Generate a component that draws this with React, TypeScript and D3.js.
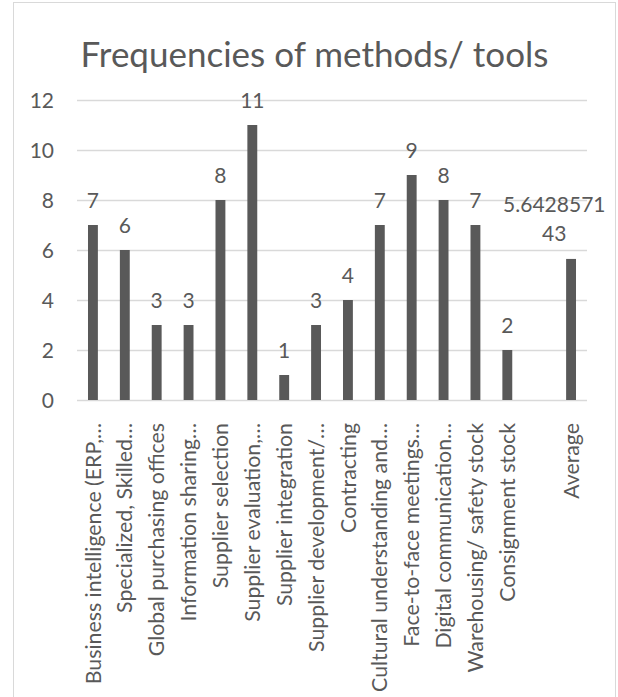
import React, { useEffect, useRef } from "react";
import * as d3 from "d3";

// Category labels as they appear on the axis (long ones are cut with an ellipsis)
const categories: string[] = [
  "Business intelligence (ERP,…",
  "Specialized, Skilled…",
  "Global purchasing offices",
  "Information sharing…",
  "Supplier selection",
  "Supplier evaluation,…",
  "Supplier integration",
  "Supplier development/…",
  "Contracting",
  "Cultural understanding and…",
  "Face-to-face meetings…",
  "Digital communication…",
  "Warehousing/ safety stock",
  "Consignment stock",
  "",
  "Average",
];

// Frequencies for the 14 methods/tools
const frequencies: number[] = [7, 6, 3, 3, 8, 11, 1, 3, 4, 7, 9, 8, 7, 2];

const yTicks: number[] = [0, 2, 4, 6, 8, 10, 12];

const TITLE = "Frequencies of methods/ tools";

const W = 618;
const H = 697;
const FONT = "Lato, 'Open Sans', sans-serif";
const INK = "#595959";
const GRID = "#d9d9d9";
const FS = 21;

export default function App() {
  const ref = useRef<SVGSVGElement | null>(null);

  useEffect(() => {
    const svg = d3.select(ref.current);
    svg.selectAll("*").remove();

    const chart = { left: 13.5, top: 2.5, right: 615.5, bottom: 698 };
    const plot = { left: 77, right: 587, top: 100, bottom: 400 };

    const average = d3.mean(frequencies) as number;
    const values: (number | null)[] = [...frequencies, null, average];

    // chart frame
    svg
      .append("rect")
      .attr("x", chart.left)
      .attr("y", chart.top)
      .attr("width", chart.right - chart.left)
      .attr("height", chart.bottom - chart.top)
      .attr("fill", "#fff")
      .attr("stroke", GRID)
      .attr("stroke-width", 1);

    // title
    svg
      .append("text")
      .attr("x", (chart.left + chart.right) / 2)
      .attr("y", 67)
      .attr("text-anchor", "middle")
      .attr("font-family", FONT)
      .attr("font-size", 35)
      .attr("fill", INK)
      .text(TITLE);

    const x = d3
      .scaleBand<number>()
      .domain(d3.range(categories.length))
      .range([plot.left, plot.right])
      .paddingInner(0.69)
      .paddingOuter(0.345);

    const y = d3.scaleLinear().domain([0, 12]).range([plot.bottom, plot.top]);

    // gridlines
    svg
      .append("g")
      .selectAll("line")
      .data(yTicks)
      .join("line")
      .attr("x1", plot.left)
      .attr("x2", plot.right)
      .attr("y1", (d) => Math.round(y(d)) + 0.5)
      .attr("y2", (d) => Math.round(y(d)) + 0.5)
      .attr("stroke", GRID)
      .attr("stroke-width", 1.3);

    // y tick labels
    svg
      .append("g")
      .selectAll("text")
      .data(yTicks)
      .join("text")
      .attr("x", 54)
      .attr("y", (d) => y(d))
      .attr("dy", "0.36em")
      .attr("text-anchor", "end")
      .attr("font-family", FONT)
      .attr("font-size", FS)
      .attr("fill", INK)
      .text((d) => String(d));

    const cx = (i: number) => (x(i) as number) + x.bandwidth() / 2;

    // bars
    svg
      .append("g")
      .selectAll("rect")
      .data(values.map((v, i) => ({ v, i })).filter((d) => d.v !== null))
      .join("rect")
      .attr("x", (d) => x(d.i) as number)
      .attr("width", x.bandwidth())
      .attr("y", (d) => y(d.v as number))
      .attr("height", (d) => y(0) - y(d.v as number))
      .attr("fill", INK);

    // value labels (wrapped to at most 9 characters per line, kept inside the frame)
    const fmt = d3.format(".10~g");
    const labels = svg.append("g");
    values.forEach((v, i) => {
      if (v === null) return;
      const s = fmt(v);
      const lines: string[] = [];
      for (let k = 0; k < s.length; k += 9) lines.push(s.slice(k, k + 9));
      const lineH = 29.5;
      const baseY = y(v) - 17.5 - (lines.length - 1) * lineH;
      const t = labels
        .append("text")
        .attr("text-anchor", "middle")
        .attr("font-family", FONT)
        .attr("font-size", FS)
        .attr("fill", INK);
      lines.forEach((ln, k) => {
        t.append("tspan")
          .attr("x", cx(i))
          .attr("y", baseY + k * lineH)
          .text(ln);
      });
      const bb = (t.node() as SVGTextElement).getBBox();
      const limit = chart.right - 10;
      const shift = Math.min(0, limit - (bb.x + bb.width));
      if (shift < 0) t.selectAll("tspan").attr("x", cx(i) + shift);
    });

    // rotated category labels
    svg
      .append("g")
      .selectAll("text")
      .data(categories.map((c, i) => ({ c, i })))
      .join("text")
      .attr("transform", (d) => `translate(${cx(d.i)},${423}) rotate(-90)`)
      .attr("dy", "0.36em")
      .attr("text-anchor", "end")
      .attr("font-family", FONT)
      .attr("font-size", 21.3)
      .attr("fill", INK)
      .text((d) => d.c);
  }, []);

  return (
    <div style={{ position: "absolute", left: 0, top: 0 }}>
      <svg ref={ref} width={W} height={H} style={{ display: "block" }} />
    </div>
  );
}
